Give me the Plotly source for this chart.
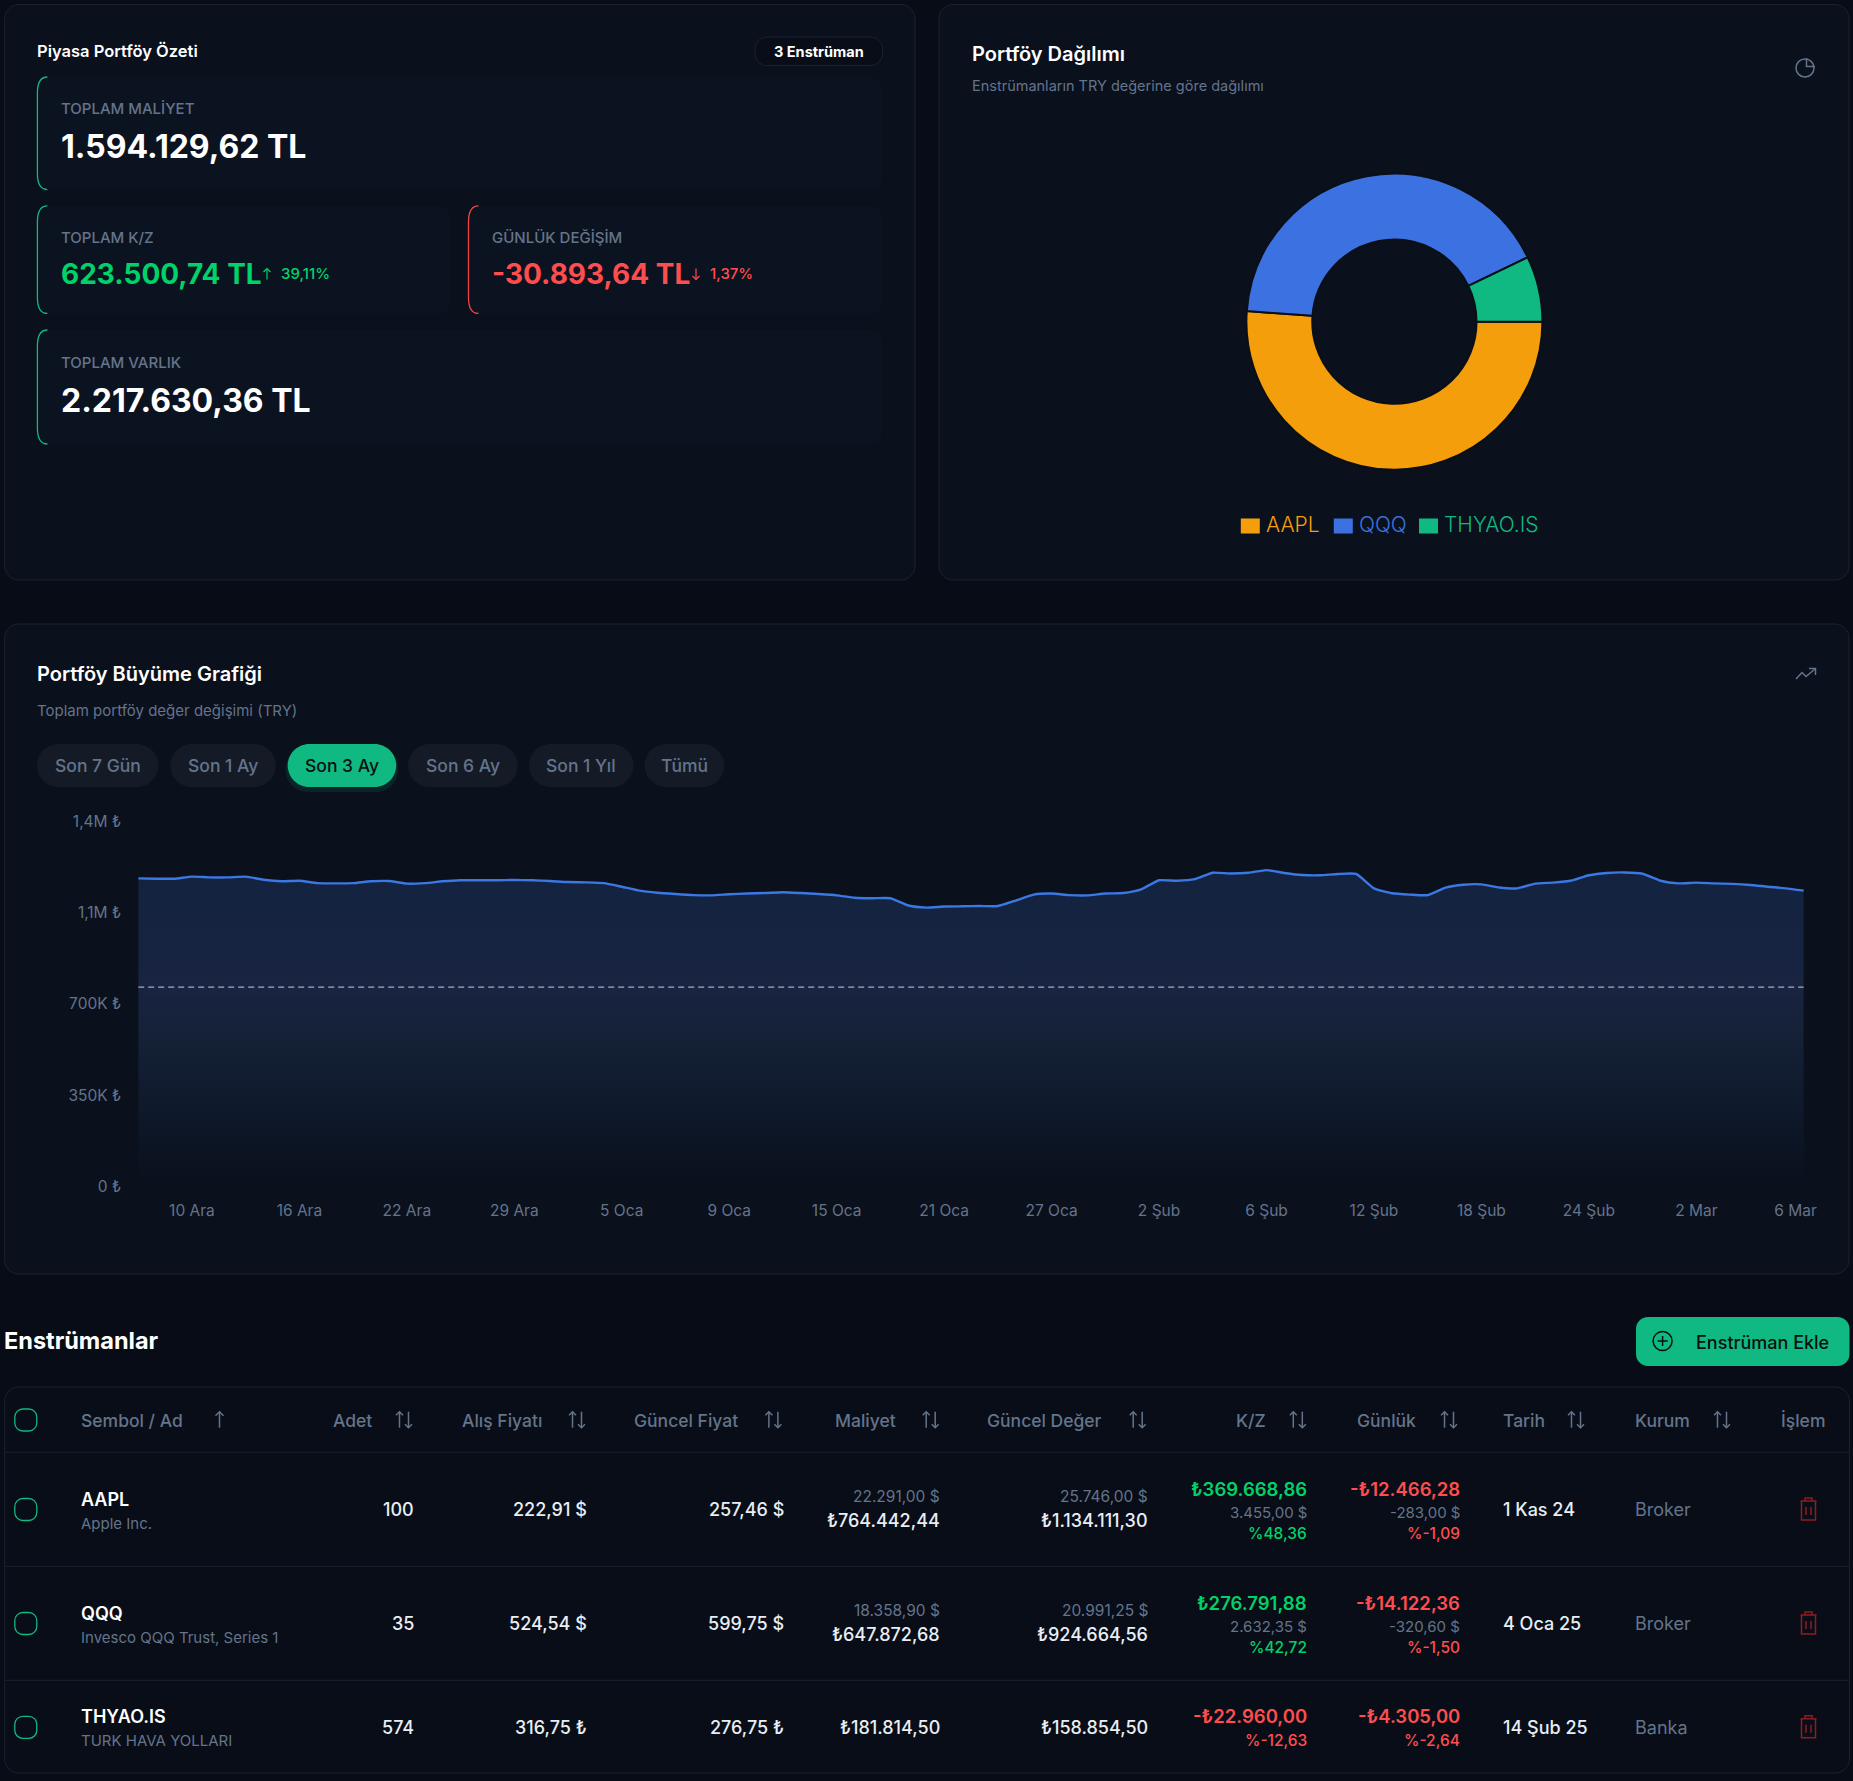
import plotly.graph_objects as go

W, H = 1853, 1781
FONT = "Inter"

# ---------- data ----------
pie_labels = ["AAPL", "QQQ", "THYAO.IS"]
pie_values = [1134111.30, 924664.56, 158854.50]
pie_colors = ["#f59e0b", "#3b71e0", "#10b981"]

series_x = list(range(94))
portfolio_values = [
    1182000, 1181000, 1181000, 1189000, 1186000, 1186000, 1189000, 1177000, 1171000, 1173000,
    1164000, 1163000, 1164000, 1171000, 1172000, 1162000, 1164000, 1171000, 1175000, 1175000,
    1175000, 1176000, 1175000, 1172000, 1168000, 1167000, 1164000, 1150000, 1135000, 1127000,
    1122000, 1118000, 1117000, 1121000, 1124000, 1126000, 1129000, 1126000, 1122000, 1117000,
    1108000, 1106000, 1106000, 1078000, 1070000, 1074000, 1075000, 1076000, 1076000, 1097000,
    1120000, 1124000, 1118000, 1117000, 1124000, 1126000, 1140000, 1175000, 1173000, 1179000,
    1204000, 1201000, 1204000, 1214000, 1203000, 1195000, 1194000, 1199000, 1199000, 1144000,
    1125000, 1120000, 1118000, 1147000, 1158000, 1159000, 1147000, 1144000, 1162000, 1166000,
    1173000, 1194000, 1203000, 1205000, 1200000, 1173000, 1163000, 1166000, 1163000, 1161000,
    1157000, 1150000, 1144000, 1135000,
]
reference_value = 765000
y_ticks = [0, 350000, 700000, 1050000, 1400000]
y_labels = ["0 ₺", "350K ₺", "700K ₺", "1,1M ₺", "1,4M ₺"]
x_ticks = [3, 9, 15, 21, 27, 33, 39, 45, 51, 57, 63, 69, 75, 81, 87, 92.54]
x_labels = ["10 Ara", "16 Ara", "22 Ara", "29 Ara", "5 Oca", "9 Oca", "15 Oca", "21 Oca",
            "27 Oca", "2 Şub", "6 Şub", "12 Şub", "18 Şub", "24 Şub", "2 Mar", "6 Mar"]

range_buttons = ["Son 7 Gün", "Son 1 Ay", "Son 3 Ay", "Son 6 Ay", "Son 1 Yıl", "Tümü"]

headers = ["Sembol / Ad", "Adet", "Alış Fiyatı", "Güncel Fiyat", "Maliyet", "Güncel Değer",
           "K/Z", "Günlük", "Tarih", "Kurum", "İşlem"]
symbols = ["AAPL", "QQQ", "THYAO.IS"]
names = ["Apple Inc.", "Invesco QQQ Trust, Series 1", "TURK HAVA YOLLARI"]
quantities = ["100", "35", "574"]
buy_prices = ["222,91 $", "524,54 $", "316,75 ₺"]
cur_prices = ["257,46 $", "599,75 $", "276,75 ₺"]
cost_usd = ["22.291,00 $", "18.358,90 $", None]
cost_try = ["₺764.442,44", "₺647.872,68", "₺181.814,50"]
value_usd = ["25.746,00 $", "20.991,25 $", None]
value_try = ["₺1.134.111,30", "₺924.664,56", "₺158.854,50"]
pl_try = ["₺369.668,86", "₺276.791,88", "-₺22.960,00"]
pl_usd = ["3.455,00 $", "2.632,35 $", None]
pl_pct = ["%48,36", "%42,72", "%-12,63"]
day_try = ["-₺12.466,28", "-₺14.122,36", "-₺4.305,00"]
day_usd = ["-283,00 $", "-320,60 $", None]
day_pct = ["%-1,09", "%-1,50", "%-2,64"]
dates = ["1 Kas 24", "4 Oca 25", "14 Şub 25"]
brokers = ["Broker", "Broker", "Banka"]

# ---------- colours ----------
BG = "#070c16"
PANEL = "#0a101c"
CARD = "#0c1320"
BORDER = "#1a2231"
MUTED = "#64748b"
WHITE = "#ffffff"
SOFT = "#e8edf4"
GREEN = "#00d26a"
RED = "#ff4d4f"
EMERALD = "#10b981"

# ---------- helpers ----------
def fx(x): return x / W
def fy(y): return 1 - y / H

shapes, annos = [], []

def rrect(x0, y0, x1, y1, r, fill=None, line=None, lw=1, opacity=1):
    c = 0.45 * r
    p = (f"M{fx(x0+r)} {fy(y0)} L{fx(x1-r)} {fy(y0)} "
         f"C{fx(x1-c)} {fy(y0)} {fx(x1)} {fy(y0+c)} {fx(x1)} {fy(y0+r)} "
         f"L{fx(x1)} {fy(y1-r)} C{fx(x1)} {fy(y1-c)} {fx(x1-c)} {fy(y1)} {fx(x1-r)} {fy(y1)} "
         f"L{fx(x0+r)} {fy(y1)} C{fx(x0+c)} {fy(y1)} {fx(x0)} {fy(y1-c)} {fx(x0)} {fy(y1-r)} "
         f"L{fx(x0)} {fy(y0+r)} C{fx(x0)} {fy(y0+c)} {fx(x0+c)} {fy(y0)} {fx(x0+r)} {fy(y0)} Z")
    shapes.append(dict(type="path", xref="paper", yref="paper", path=p, fillcolor=fill or "rgba(0,0,0,0)",
                       line=dict(color=line or "rgba(0,0,0,0)", width=lw if line else 0),
                       opacity=opacity, layer="below"))

def poly(pts, color, lw=1.5, layer="above"):
    p = "M" + " L".join(f"{fx(x)} {fy(y)}" for x, y in pts)
    shapes.append(dict(type="path", xref="paper", yref="paper", path=p,
                       line=dict(color=color, width=lw), layer=layer))

def circle(cx, cy, r, color, lw=1.5):
    shapes.append(dict(type="circle", xref="paper", yref="paper", x0=fx(cx-r), x1=fx(cx+r),
                       y0=fy(cy+r), y1=fy(cy-r), line=dict(color=color, width=lw), layer="above"))

def text(x, y, s, size, color, weight=400, anchor="left"):
    annos.append(dict(xref="paper", yref="paper", x=fx(x), y=fy(y), text=s, showarrow=False,
                      xanchor=anchor, yanchor="middle", borderpad=0, borderwidth=0,
                      font=dict(family=FONT, size=size, color=color, weight=weight)))

def accent(x, y0, y1, color):
    p = (f"M{fx(x+10)} {fy(y0)} Q{fx(x)} {fy(y0)} {fx(x)} {fy(y0+16)} L{fx(x)} {fy(y1-16)} "
         f"Q{fx(x)} {fy(y1)} {fx(x+10)} {fy(y1)}")
    shapes.append(dict(type="path", xref="paper", yref="paper", path=p,
                       line=dict(color=color, width=1.3), layer="below"))

def card(x0, y0, x1, y1, color):
    rrect(x0, y0, x1, y1, 12, fill=CARD)
    accent(x0, y0, y1, color)

def arrow(x, yc, up, color, half=6, head=3.5, lw=1.2):
    tip, tail = (yc - half, yc + half) if up else (yc + half, yc - half)
    d = head if up else -head
    poly([(x, tail), (x, tip)], color, lw)
    poly([(x - head, tip + d), (x, tip), (x + head, tip + d)], color, lw)

def sort_icon(x, yc):
    arrow(x - 4.5, yc, True, MUTED, half=8, head=3.5, lw=1.5)
    arrow(x + 4.5, yc, False, MUTED, half=8, head=3.5, lw=1.5)

def trash(x, y, color="#8c1d22"):
    lw = 1.5
    poly([(x-8, y-9), (x+8, y-9)], color, lw)
    poly([(x-3.5, y-9), (x-3.5, y-12), (x+3.5, y-12), (x+3.5, y-9)], color, lw)
    poly([(x-7, y-9), (x-7, y+10), (x+7, y+10), (x+7, y-9)], color, lw)
    poly([(x-2.5, y-3), (x-2.5, y+5)], color, lw)
    poly([(x+2.5, y-3), (x+2.5, y+5)], color, lw)

# ---------- panels ----------
rrect(4.7, 4.5, 915, 580, 14, fill=PANEL, line=BORDER)
rrect(939, 4.5, 1849, 580, 14, fill=PANEL, line=BORDER)
rrect(4.7, 624, 1849, 1274, 14, fill=PANEL, line=BORDER)

# summary panel
text(37.4, 51.5, "Piyasa Portföy Özeti", 16.5, WHITE, 600)
rrect(755, 37, 882.6, 65.5, 12, fill="#080d17", line=BORDER)
text(818.5, 51.5, "3 Enstrüman", 14.5, WHITE, 700, "center")

card(37.4, 77, 882.6, 189.6, EMERALD)
text(60.5, 108, "TOPLAM MALİYET", 15, MUTED, 500)
text(60.5, 146.7, "1.594.129,62 TL", 32, WHITE, 700)

card(37.4, 205.8, 451, 313.4, EMERALD)
text(60.5, 238, "TOPLAM K/Z", 15, MUTED, 500)
text(60.5, 273.5, "623.500,74 TL", 28, GREEN, 700)
arrow(267, 274, True, GREEN, half=5.5, head=3.5)
text(281, 273.5, "39,11%", 15, GREEN, 500)

card(468.5, 205.8, 882.6, 313.4, "#ef4444")
text(491.7, 238, "GÜNLÜK DEĞİŞİM", 15, MUTED, 500)
text(491.7, 273.5, "-30.893,64 TL", 28, RED, 700)
arrow(696, 274, False, RED, half=5.5, head=3.5)
text(710, 273.5, "1,37%", 15, RED, 500)

card(37.4, 330, 882.6, 444, EMERALD)
text(60.5, 362, "TOPLAM VARLIK", 15, MUTED, 500)
text(60.5, 400.7, "2.217.630,36 TL", 32, WHITE, 700)

# allocation panel
text(971.8, 53.8, "Portföy Dağılımı", 20, WHITE, 600)
text(971.8, 85.8, "Enstrümanların TRY değerine göre dağılımı", 14.5, MUTED)
circle(1805, 68, 9, MUTED)
poly([(1806.5, 58), (1806.5, 66.5), (1815, 66.5)], MUTED)

swatch_x = [1240.8, 1333.8, 1419]
label_x = [1266, 1358.5, 1443.8]
for sx, lx, lab, col in zip(swatch_x, label_x, pie_labels, pie_colors):
    rrect(sx, 518.5, sx + 19, 533.5, 0.1, fill=col)
    text(lx, 524.5, lab, 21, col, 300)

# growth panel
text(37.4, 673.9, "Portföy Büyüme Grafiği", 20, WHITE, 600)
text(37.4, 710.5, "Toplam portföy değer değişimi (TRY)", 15, MUTED)
poly([(1796, 679), (1802, 672.5), (1806, 676.5), (1815, 669)], MUTED)
poly([(1809, 668.5), (1815.5, 668.5), (1815.5, 675)], MUTED)

button_x = [(36.8, 158.4), (170.2, 275.8), (287.7, 396.2), (408, 517.8), (529, 633.5), (644.7, 724.2)]
for (x0, x1), lab in zip(button_x, range_buttons):
    active = lab == "Son 3 Ay"
    if active:
        rrect(x0 - 2, 746, x1 + 2, 792, 22, fill=EMERALD, opacity=0.12)
    rrect(x0, 744, x1, 787, 21.5, fill=EMERALD if active else "#141b27")
    text((x0 + x1) / 2, 765.6, lab, 17.5, "#07110f" if active else MUTED, 500, "center")

# table heading
text(4, 1340.7, "Enstrümanlar", 23.5, WHITE, 700)
rrect(1636, 1317, 1849.5, 1366, 12, fill=EMERALD)
circle(1662.6, 1341, 9.5, "#07110f")
poly([(1662.6, 1336), (1662.6, 1346)], "#07110f")
poly([(1657.6, 1341), (1667.6, 1341)], "#07110f")
text(1695.8, 1342, "Enstrüman Ekle", 18, "#07110f", 500)

# table frame
rrect(4.7, 1387, 1849.5, 1773, 14, fill="#080d17", line=BORDER)
for y in (1452.3, 1566.3, 1680.3):
    poly([(4.7, y), (1849.5, y)], BORDER, 1, layer="below")

# header row
hy = 1420.7
head_x = [80.7, 332.7, 462, 634, 835, 987, 1236, 1356.6, 1503, 1634.7, 1780.6]
sort_x = [None, 404, 577, 773.4, 930.7, 1137.7, 1297.8, 1449, 1576, 1722, None]
rrect(14.8, 1409, 36.8, 1431, 8, line=EMERALD, lw=1.3)
for x, sx, lab in zip(head_x, sort_x, headers):
    text(x, hy, lab, 17.5, MUTED, 500)
    if sx:
        sort_icon(sx, hy - 1)
arrow(219.5, hy - 1, True, MUTED, half=8, head=4, lw=1.5)

# rows
row_mid = [1509.5, 1623.5, 1727.3]
for i in range(3):
    m = row_mid[i]
    rrect(14.8, m - 11, 36.8, m + 11, 8, line=EMERALD, lw=1.3)
    two = i == 2
    text(80.7, m - (11 if two else 10.5), symbols[i], 18, WHITE, 600)
    text(80.7, m + (13 if two else 13.5), names[i], 15, MUTED)
    text(414, m, quantities[i], 18, SOFT, 500, "right")
    text(586.6, m, buy_prices[i], 18, SOFT, 500, "right")
    text(783.5, m, cur_prices[i], 18, SOFT, 500, "right")
    if cost_usd[i]:
        text(940.2, m - 13, cost_usd[i], 15.5, MUTED, 400, "right")
        text(940.2, m + 10.5, cost_try[i], 18, SOFT, 500, "right")
        text(1147.8, m - 13, value_usd[i], 15.5, MUTED, 400, "right")
        text(1147.8, m + 10.5, value_try[i], 18, SOFT, 500, "right")
    else:
        text(940.2, m, cost_try[i], 18, SOFT, 500, "right")
        text(1147.8, m, value_try[i], 18, SOFT, 500, "right")
    pl_col = GREEN if not pl_try[i].startswith("-") else RED
    if pl_usd[i]:
        text(1307.3, m - 21, pl_try[i], 18.5, pl_col, 600, "right")
        text(1307.3, m + 3, pl_usd[i], 15, MUTED, 400, "right")
        text(1307.3, m + 24, pl_pct[i], 15.5, pl_col, 500, "right")
        text(1459.8, m - 21, day_try[i], 18.5, RED, 600, "right")
        text(1459.8, m + 3, day_usd[i], 15, MUTED, 400, "right")
        text(1459.8, m + 24, day_pct[i], 15.5, RED, 500, "right")
    else:
        text(1307.3, m - 11, pl_try[i], 18.5, pl_col, 600, "right")
        text(1307.3, m + 13, pl_pct[i], 15.5, pl_col, 500, "right")
        text(1459.8, m - 11, day_try[i], 18.5, RED, 600, "right")
        text(1459.8, m + 13, day_pct[i], 15.5, RED, 500, "right")
    text(1503, m, dates[i], 18, SOFT, 500)
    text(1634.7, m, brokers[i], 18, MUTED, 400)
    trash(1808.5, m + 0.5)

# reference line, through the chart's own y scale
shapes.append(dict(type="line", xref="x", yref="y", x0=series_x[0], x1=series_x[-1],
                   y0=reference_value, y1=reference_value,
                   line=dict(color="#a3adbb", width=1.3, dash="6px,4px"), layer="above"))

# ---------- figure ----------
fig = go.Figure()
fig.add_trace(go.Scatter(
    x=series_x, y=portfolio_values, mode="lines", hoverinfo="skip", showlegend=False,
    line=dict(color="#3b78e4", width=2.4, shape="spline", smoothing=0.5),
    fill="tozeroy",
    fillgradient=dict(type="vertical", start=1214000, stop=0,
                      colorscale=[[0, "#13233f"], [0.37, "#182441"], [0.5, "#162238"],
                                  [0.72, "#0f1a2d"], [1, "#0a101c"]]),
))
fig.add_trace(go.Pie(
    labels=pie_labels, values=pie_values, sort=False, direction="clockwise", rotation=90,
    hole=0.555, textinfo="none", hoverinfo="skip", showlegend=False,
    marker=dict(colors=pie_colors, line=dict(color="#0a0f18", width=2)),
    domain=dict(x=[fx(1394.4 - 148), fx(1394.4 + 148)], y=[fy(321.7 + 148), fy(321.7 - 148)]),
))

fig.update_layout(
    width=W, height=H, autosize=False, margin=dict(l=0, r=0, t=0, b=0, pad=0),
    paper_bgcolor=BG, plot_bgcolor="rgba(0,0,0,0)", showlegend=False,
    font=dict(family=FONT, color=MUTED),
    shapes=shapes, annotations=annos,
    xaxis=dict(domain=[fx(138.2), fx(1803.8)], range=[series_x[0], series_x[-1]], tickmode="array",
               tickvals=x_ticks, ticktext=x_labels, showgrid=False, zeroline=False, showline=False,
               ticks="", ticklen=0, ticklabelstandoff=13, tickangle=0,
               tickfont=dict(family=FONT, size=15.5, color=MUTED), automargin=False),
    yaxis=dict(domain=[fy(1186.5), fy(821.6)], range=[0, 1400000], tickmode="array",
               tickvals=y_ticks, ticktext=y_labels, showgrid=True,
               gridcolor="#1b2433", griddash="3px,3px", gridwidth=1, zeroline=False, showline=False,
               ticks="", ticklen=0, ticklabelstandoff=16,
               tickfont=dict(family=FONT, size=15.5, color=MUTED), automargin=False),
)

fig.write_html("out.html", config=dict(displayModeBar=False),
               post_script="document.body.style.margin='0';document.documentElement.style.overflow='hidden';")
